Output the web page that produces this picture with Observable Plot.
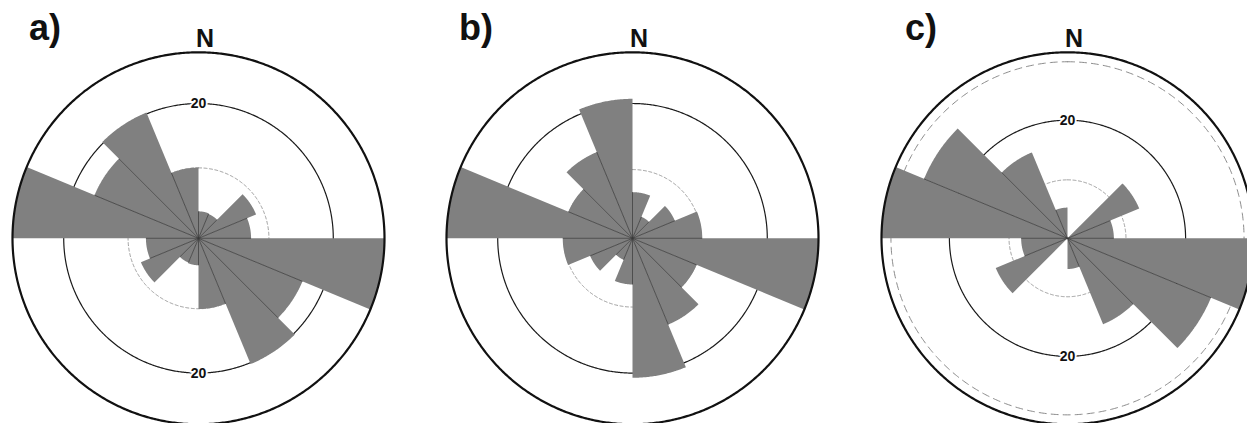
<!DOCTYPE html>
<html>
<head>
<meta charset="utf-8">
<script src="https://cdn.jsdelivr.net/npm/d3@7"></script>
<script src="https://cdn.jsdelivr.net/npm/@observablehq/plot@0.6"></script>
<style>
html, body { margin: 0; padding: 0; background: #fff; overflow: hidden; }
#wrap { position: relative; width: 1247px; height: 423px; overflow: hidden; background: #fff; }
#wrap > svg { position: absolute; top: 0; }
</style>
</head>
<body>
<div id="wrap"></div>
<script>
// ---------- data ----------
// bin start directions (degrees clockwise from North), each 22.5° wide,
// axial data: every bin is mirrored at +180°
const binStarts = [0, 22.5, 45, 67.5, 90, 112.5, 135, 157.5];
const binWidth = 22.5;
const panelLabels = ["a)", "b)", "c)"];
const northLabel = "N";

const valuesA = [4.0, 3.9, 9.25, 7.8, 27.6, 16.7, 20.2, 10.5];
const valuesB = [6.85, 3.45, 6.8, 10.35, 27.6, 10.3, 13.85, 20.7];
const valuesC = [0, 0, 13.15, 7.85, 31.5, 26.3, 15.75, 5.2];

const solidRingsA = [20], solidRingsB = [20], solidRingsC = [20];
const dottedRingsA = [10.45], dottedRingsB = [10.2], dottedRingsC = [9.9];
const dashedRingsA = [], dashedRingsB = [], dashedRingsC = [29.9];
const ringLabelsA = ["20"], ringLabelsB = [], ringLabelsC = ["20"];

// ---------- layout ----------
const layout = [
  {cx: 198.0, labelDx: 40.5},
  {cx: 632.4, labelDx: 36.5},
  {cx: 1067.3, labelDx: 47.5}
];
const cy = 237.8, R = 186, W = 420, H = 423;

const toXY = (r, deg) => {
  const t = deg * Math.PI / 180;
  return {x: r * Math.sin(t), y: r * Math.cos(t)};
};

function ringPoints(r) {
  return d3.range(0, 360.5, 0.5).map(a => toXY(r, a));
}

function rose(values, solid, dotted, dashed, ringLabels, label, lay) {
  const M = d3.max(values);
  // 16 sectors: bin k and its mirror k+8
  const full = [...values, ...values];
  const starts = [...binStarts, ...binStarts.map(s => s + 180)];
  const sectorPts = [];
  starts.forEach((s, k) => {
    const v = full[k];
    if (!(v > 0)) return;
    sectorPts.push({id: k, x: 0, y: 0});
    for (let a = s; a <= s + binWidth + 1e-9; a += 0.5) sectorPts.push({id: k, ...toXY(v, a)});
    sectorPts.push({id: k, x: 0, y: 0});
  });
  // radial division lines between neighbouring sectors
  const bounds = starts.map((s, k) => {
    const L = Math.min(full[k], full[(k + 15) % 16]);
    return {L, ...toXY(L, s)};
  }).filter(d => d.L > 0);

  const ringLine = (rs, opts) => rs.map(r => Plot.line(ringPoints(r), {x: "x", y: "y", ...opts}));
  const labelPos = ringLabels.flatMap(t => [{t, y: +t}, {t, y: -t}]);

  const plot = Plot.plot({
    width: W, height: H, margin: 0,
    x: {domain: [-M, M], range: [W / 2 - R, W / 2 + R], axis: null},
    y: {domain: [-M, M], range: [cy + R, cy - R], axis: null},
    style: {fontFamily: "'Liberation Sans', Arial, sans-serif", background: "transparent", overflow: "visible"},
    marks: [
      ...ringLine(dotted, {stroke: "#9a9a9a", strokeWidth: 1, strokeDasharray: "3,2.5"}),
      ...ringLine(dashed, {stroke: "#8a8a8a", strokeWidth: 1, strokeDasharray: "7,5"}),
      ...ringLine(solid, {stroke: "#1a1a1a", strokeWidth: 1.2}),
      Plot.line(sectorPts, {x: "x", y: "y", z: "id", fill: "#808080", stroke: "none"}),
      Plot.link(bounds, {x1: 0, y1: 0, x2: "x", y2: "y", stroke: "#3a3a3a", strokeWidth: 0.8}),
      ...ringLine([M], {stroke: "#111", strokeWidth: 2.2}),
      Plot.text(labelPos, {x: 0, y: "y", text: "t", fontSize: 14, fontWeight: "bold", fill: "#111",
        stroke: "white", strokeWidth: 3.5, paintOrder: "stroke"}),
      Plot.text([northLabel], {x: 0, y: M, text: d => d, dx: 6.5, dy: -5.5, lineAnchor: "bottom",
        fontSize: 25, fontWeight: "bold", fill: "#111"}),
      Plot.text([label], {frameAnchor: "top-left", text: d => d, dx: lay.labelDx, dy: 14,
        textAnchor: "start", lineAnchor: "top", fontSize: 36, fontWeight: "bold", fill: "#111"})
    ]
  });
  plot.style.left = (lay.cx - W / 2) + "px";
  return plot;
}

const wrap = document.getElementById("wrap");
wrap.appendChild(rose(valuesA, solidRingsA, dottedRingsA, dashedRingsA, ringLabelsA, panelLabels[0], layout[0]));
wrap.appendChild(rose(valuesB, solidRingsB, dottedRingsB, dashedRingsB, ringLabelsB, panelLabels[1], layout[1]));
wrap.appendChild(rose(valuesC, solidRingsC, dottedRingsC, dashedRingsC, ringLabelsC, panelLabels[2], layout[2]));
</script>
</body>
</html>
